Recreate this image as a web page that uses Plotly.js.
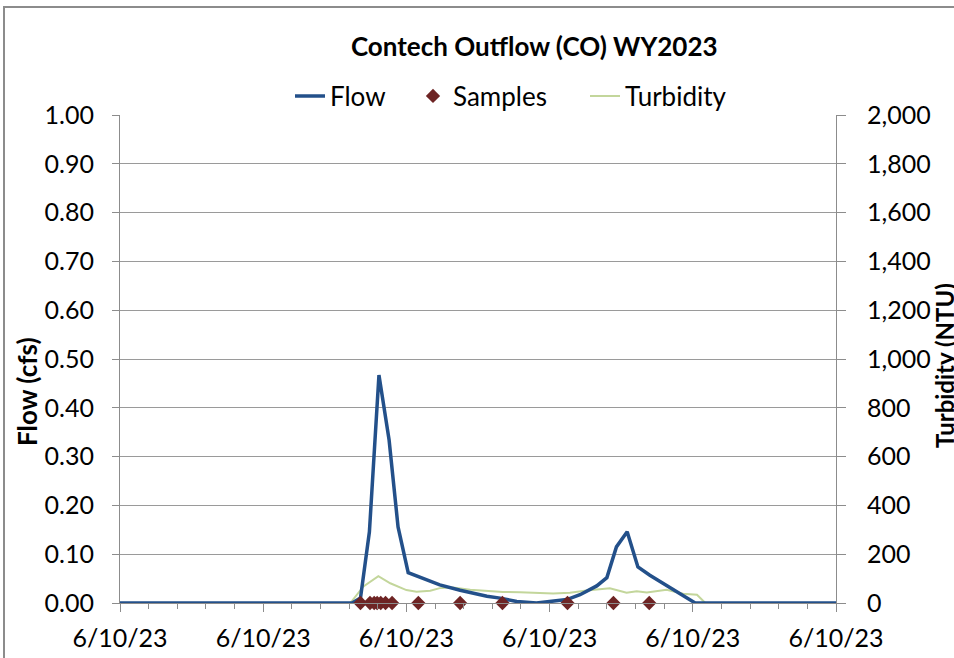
<!DOCTYPE html>
<html>
<head>
<meta charset="utf-8">
<script src="https://cdn.plot.ly/plotly-3.0.1.min.js"></script>
<style>
  html, body { margin: 0; background: #fff; overflow: hidden; width: 954px; height: 658px; }
  #chart { width: 954px; height: 658px; position: absolute; left: 0; top: 0; }
  .edge { position: absolute; background: #8c8c8c; pointer-events: none; }
  #edgeTop { left: 3px; top: 6px; width: 951px; height: 2px; }
  #edgeLeft { left: 3px; top: 6px; width: 2px; height: 652px; }
</style>
</head>
<body>
<div id="chart"></div>
<div class="edge" id="edgeTop"></div>
<div class="edge" id="edgeLeft"></div>
<script>
// flow record (cfs)
let flowTimes = ['00:00', '06:29', '06:43', '06:58', '07:14', '07:31', '07:46', '08:03', '08:56',
    '09:30', '10:15', '10:37', '11:05', '11:38', '12:29', '12:51', '13:19', '13:36', '13:52',
    '14:10', '14:28', '14:48', '16:04', '20:00'];
let flowValues = [0, 0, 0.01, 0.146, 0.467, 0.334, 0.156, 0.062, 0.037,
    0.026, 0.014, 0.010, 0.003, 0.0, 0.007, 0.017, 0.035, 0.052, 0.115,
    0.146, 0.074, 0.057, 0, 0];

// turbidity (NTU)
let turbTimes = ['00:00', '06:26', '06:48', '07:13', '07:33', '08:00', '08:17', '08:40', '08:56',
    '09:18', '09:47', '10:42', '11:10', '12:06', '12:34', '13:02', '13:41', '14:09', '14:26',
    '14:43', '15:16', '15:44', '16:07', '16:21', '20:00'];
let turbValues = [0, 0, 68, 110, 81, 53, 46, 50, 61,
    64, 54, 45, 44, 39, 42, 51, 60, 42, 48,
    43, 54, 38, 34, 0, 0];

// sample times
let sampleTimes = ['06:43', '06:59', '07:06', '07:11', '07:17', '07:25', '07:36', '08:20',
    '09:30', '10:41', '12:30', '13:47', '14:47'];
let sampleValues = [0, 0, 0, 0, 0, 0, 0, 0, 0, 0, 0, 0, 0];

let day = '2023-06-10 ';
function stamp(arr) {
    return arr.map(t => day + t);
}

let font = 'Lato, "Open Sans", sans-serif';
let gray = '#8c8c8c';

let turbidity = {
    x: stamp(turbTimes),
    y: turbValues,
    name: 'Turbidity',
    type: 'scatter',
    mode: 'lines',
    yaxis: 'y',
    legend: 'legend3',
    line: { color: '#c3d69b', width: 2 }
};
let flow = {
    x: stamp(flowTimes),
    y: flowValues,
    name: 'Flow',
    type: 'scatter',
    mode: 'lines',
    yaxis: 'y2',
    legend: 'legend',
    line: { color: '#23508a', width: 3.5 }
};
let samples = {
    x: stamp(sampleTimes),
    y: sampleValues,
    name: 'Samples',
    type: 'scatter',
    mode: 'markers',
    yaxis: 'y2',
    legend: 'legend2',
    cliponaxis: false,
    marker: { symbol: 'diamond', size: 11, color: '#6e2424' }
};

// one legend box per entry, placed like the original
function legendAt(px) {
    return {
        xref: 'container', yref: 'container',
        x: px / 954, xanchor: 'left',
        y: 1 - 96 / 658, yanchor: 'middle',
        font: { family: font, size: 26 },
        itemwidth: 30,
        bgcolor: 'rgba(0,0,0,0)'
    };
}

let layout = {
    width: 954,
    height: 658,
    margin: { l: 120, r: 118, t: 115, b: 55, autoexpand: false },
    paper_bgcolor: '#fff',
    plot_bgcolor: '#fff',
    font: { family: font, color: '#000', size: 25 },
    title: {
        text: '<b>Contech Outflow (CO) WY2023</b>',
        font: { family: font, size: 26, color: '#000' },
        x: 0.56, xanchor: 'center',
        y: 1 - 47 / 658, yanchor: 'middle'
    },
    showlegend: true,
    legend: legendAt(290),
    legend2: legendAt(413),
    legend3: legendAt(585),
    xaxis: {
        type: 'date',
        range: [day + '00:00', day + '20:00'],
        tick0: day + '00:00',
        dtick: 4 * 3600 * 1000,
        tickformat: '%-m/%-d/%y',
        ticks: 'outside',
        ticklen: 8,
        tickcolor: gray,
        ticklabelstandoff: 5,
        showline: true,
        linecolor: gray,
        linewidth: 1,
        showgrid: false,
        zeroline: false,
        minor: { dtick: 48 * 60 * 1000, ticks: 'outside', ticklen: 5, tickcolor: gray, showgrid: false }
    },
    yaxis: {
        side: 'right',
        range: [0, 2000],
        dtick: 200,
        tickformat: ',d',
        ticks: 'outside',
        ticklen: 9,
        tickcolor: gray,
        ticklabelstandoff: 16,
        showline: true,
        linecolor: gray,
        showgrid: true,
        gridcolor: '#9a9a9a',
        gridwidth: 1,
        zeroline: false
    },
    yaxis2: {
        overlaying: 'y',
        side: 'left',
        range: [0, 1],
        dtick: 0.1,
        tickformat: '.2f',
        ticks: 'outside',
        ticklen: 7,
        tickcolor: gray,
        ticklabelstandoff: 13,
        showline: true,
        linecolor: gray,
        showgrid: false,
        zeroline: false
    },
    // axis titles sit where the original put them (not quite centred)
    annotations: [
        {
            text: '<b>Flow (cfs)</b>', textangle: -90, showarrow: false,
            xref: 'paper', yref: 'paper',
            x: (27 - 120) / 716, xanchor: 'center',
            y: (603 - 392) / 488, yanchor: 'middle',
            font: { family: font, size: 26 }
        },
        {
            text: '<b>Turbidity (NTU)</b>', textangle: -90, showarrow: false,
            xref: 'paper', yref: 'paper',
            x: (944 - 120) / 716, xanchor: 'center',
            y: (603 - 366) / 488, yanchor: 'middle',
            font: { family: font, size: 24 }
        }
    ]
};

Plotly.newPlot('chart', [turbidity, flow, samples], layout, { staticPlot: true });
</script>
</body>
</html>
